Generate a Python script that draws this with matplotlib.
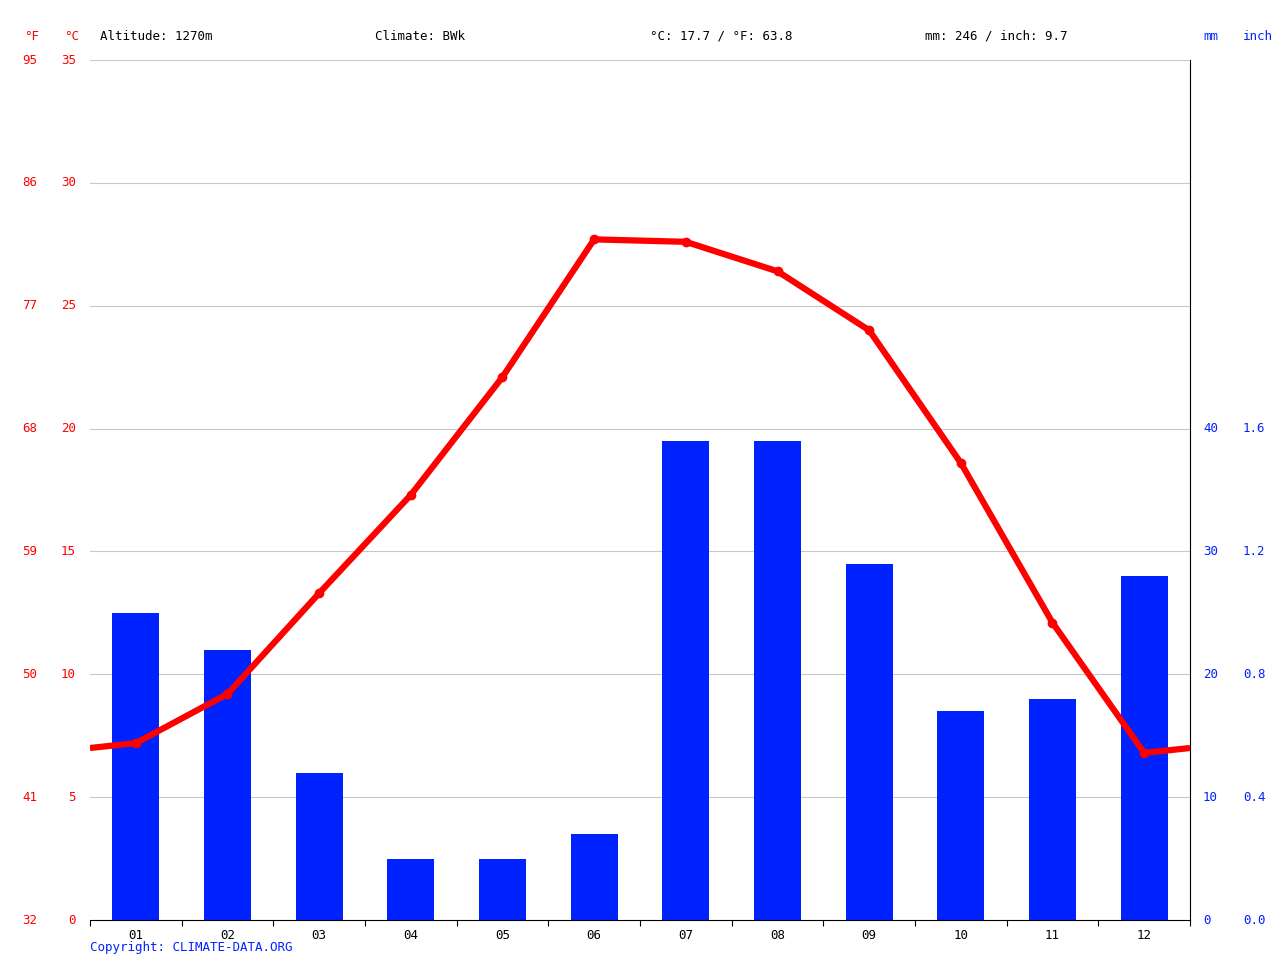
import matplotlib
matplotlib.use("Agg")
import matplotlib.pyplot as plt
import numpy as np

months = ["01","02","03","04","05","06","07","08","09","10","11","12"]
temp_c = [7.2, 9.2, 13.3, 17.3, 22.1, 27.7, 27.6, 26.4, 24.0, 18.6, 12.1, 6.8]
precip_mm = [25, 22, 12, 5, 5, 7, 39, 39, 29, 17, 18, 28]
c_ticks = [0, 5, 10, 15, 20, 25, 30, 35]
f_labels = ["32", "41", "50", "59", "68", "77", "86", "95"]
mm_ticks = [0, 10, 20, 30, 40]
inch_labels = ["0.0", "0.4", "0.8", "1.2", "1.6"]

mono = "DejaVu Sans Mono"
RED = "#ff0000"; BLUE = "#0022ff"
fig = plt.figure(figsize=(12.8, 9.6), dpi=100)
W, H = 1280, 960
ax = fig.add_axes([90/W, 40/H, 1100/W, 860/H])
x = np.arange(12)
ax.set_xlim(-0.5, 11.5)
ax.set_ylim(0, 35)
for t in c_ticks[1:]:
    ax.axhline(t, color="#c8c8c8", lw=0.8, zorder=0)
ax.bar(x, [p/2 for p in precip_mm], width=0.51, color=BLUE, zorder=2)
edge = (temp_c[0] + temp_c[-1]) / 2
ax.plot([-0.5] + list(x) + [11.5], [edge] + temp_c + [edge], color=RED, lw=4.5, zorder=3, solid_capstyle="butt")
ax.plot(x, temp_c, "o", color=RED, ms=6, zorder=4)

for s in ["top", "left"]:
    ax.spines[s].set_visible(False)
ax.spines["right"].set_color("black")
ax.spines["bottom"].set_color("black")
ax.set_yticks([])
ax.set_xticks(np.arange(-0.5, 12, 1), minor=False)
ax.set_xticklabels([])
ax.tick_params(axis="x", length=4, direction="out")
for i, m in enumerate(months):
    ax.text(i, -0.35, m, ha="center", va="top", fontsize=9, family=mono)

def ypix(v):  # °C value to figure fraction
    return (40 + v/35*860)/H

for t, f in zip(c_ticks, f_labels):
    fig.text(76/W, ypix(t), str(t), color=RED, ha="right", va="center", fontsize=9, family=mono)
    fig.text(37/W, ypix(t), f, color=RED, ha="right", va="center", fontsize=9, family=mono)
for m, inch in zip(mm_ticks, inch_labels):
    fig.text(1203/W, ypix(m/2), str(m), color=BLUE, ha="left", va="center", fontsize=9, family=mono)
    fig.text(1243/W, ypix(m/2), inch, color=BLUE, ha="left", va="center", fontsize=9, family=mono)

ty = 1 - 36/H
fig.text(24/W, ty, "°F", color=RED, fontsize=9, family=mono, va="center")
fig.text(64/W, ty, "°C", color=RED, fontsize=9, family=mono, va="center")
fig.text(1203/W, ty, "mm", color=BLUE, fontsize=9, family=mono, va="center")
fig.text(1243/W, ty, "inch", color=BLUE, fontsize=9, family=mono, va="center")
fig.text(100/W, ty, "Altitude: 1270m", fontsize=9, family=mono, va="center")
fig.text(375/W, ty, "Climate: BWk", fontsize=9, family=mono, va="center")
fig.text(650/W, ty, "°C: 17.7 / °F: 63.8", fontsize=9, family=mono, va="center")
fig.text(925/W, ty, "mm: 246 / inch: 9.7", fontsize=9, family=mono, va="center")
fig.text(90/W, 1 - 948/H, "Copyright: CLIMATE-DATA.ORG", color=BLUE, fontsize=9, family=mono, va="center")
fig.savefig("out.png", dpi=100)
